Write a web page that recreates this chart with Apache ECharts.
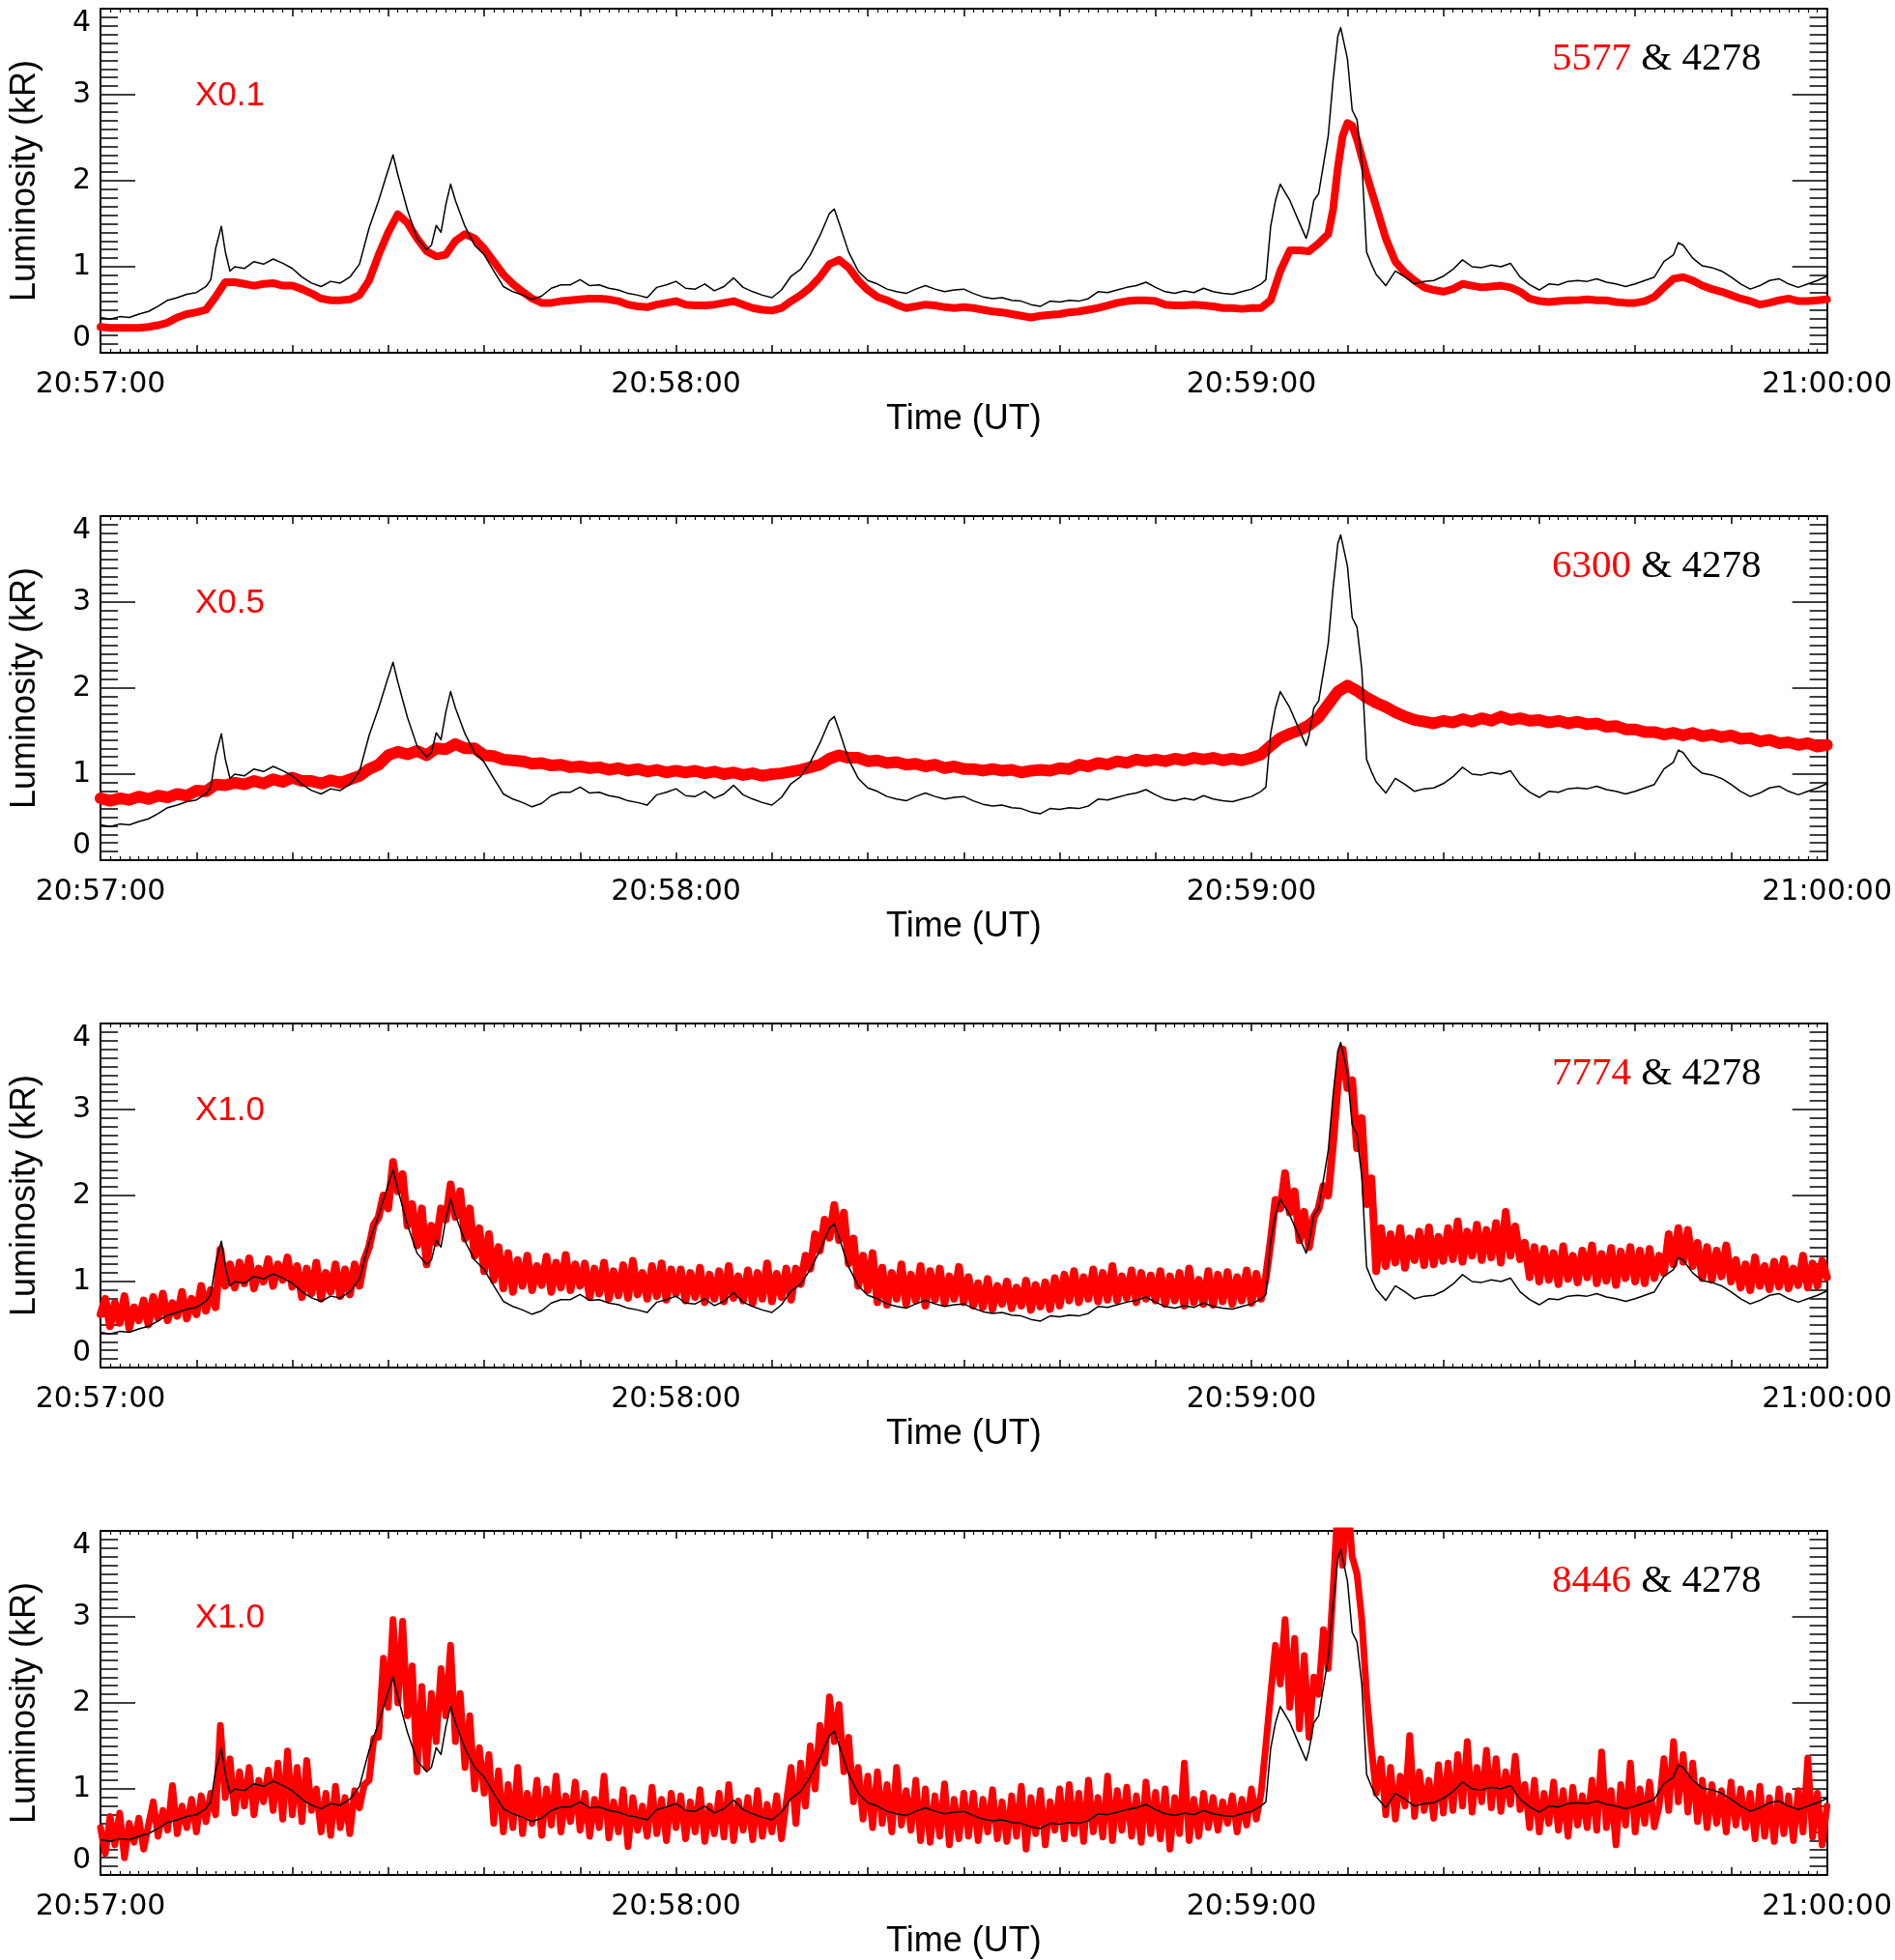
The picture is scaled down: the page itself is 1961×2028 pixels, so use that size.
<!DOCTYPE html>
<html>
<head>
<meta charset="utf-8">
<script src="https://cdn.jsdelivr.net/npm/echarts@6/dist/echarts.min.js"></script>
<style>html,body{margin:0;padding:0;background:#fff}#c{width:1961px;height:2028px}</style>
</head>
<body>
<div id="c"></div>
<script>
// ---- tick labels ----
const timeLabels = ['20:57:00', '20:58:00', '20:59:00', '21:00:00'];
const yTicks = [0, 1, 2, 3, 4];
const panelNames = ['5577', '6300', '7774', '8446'];
const scaleLabels = ['X0.1', 'X0.5', 'X1.0', 'X1.0'];
const refName = '4278';

// ---- 4278 (black), [seconds after 20:57:00, kR] ----
const k4278 = [
[0,0.41],[1,0.39],[2,0.42],[3,0.41],[4,0.45],[5,0.48],[6,0.54],[7,0.61],[8,0.64],[9,0.68],[10,0.70],[11,0.77],[11.5,0.85],[12,1.21],[12.6,1.47],[13,1.18],[13.5,0.95],[14,1.00],[15,0.98],[16,1.06],[17,1.03],[18,1.09],[19,1.04],[20,0.98],[21,0.88],[22,0.81],[23,0.77],[24,0.83],[25,0.81],[26,0.88],[27,1.03],[28,1.45],[29,1.77],[30,2.13],[30.5,2.30],[31,2.07],[32,1.66],[33,1.33],[34,1.20],[34.5,1.25],[35,1.48],[35.5,1.40],[36,1.72],[36.5,1.96],[37,1.77],[38,1.47],[39,1.25],[40,1.14],[41,0.95],[42,0.77],[43,0.71],[44,0.67],[45,0.62],[46,0.66],[47,0.75],[48,0.79],[49,0.79],[50,0.85],[51,0.78],[52,0.79],[53,0.75],[54,0.73],[55,0.69],[56,0.67],[57,0.64],[58,0.76],[59,0.79],[60,0.83],[61,0.75],[62,0.74],[63,0.80],[64,0.72],[65,0.77],[66,0.87],[67,0.76],[68,0.71],[69,0.67],[70,0.64],[71,0.73],[72,0.89],[73,0.97],[74,1.14],[75,1.36],[76,1.62],[76.5,1.67],[77,1.51],[78,1.17],[79,0.95],[80,0.84],[81,0.80],[82,0.74],[83,0.71],[84,0.69],[85,0.74],[86,0.78],[87,0.74],[88,0.71],[89,0.73],[90,0.74],[91,0.69],[92,0.65],[93,0.63],[94,0.64],[95,0.61],[96,0.60],[97,0.56],[98,0.54],[99,0.60],[100,0.59],[101,0.61],[102,0.60],[103,0.63],[104,0.71],[105,0.70],[106,0.73],[107,0.76],[108,0.78],[109,0.82],[110,0.76],[111,0.71],[112,0.69],[113,0.72],[114,0.70],[115,0.75],[116,0.71],[117,0.69],[118,0.68],[119,0.71],[120,0.74],[121,0.80],[121.5,0.85],[122,1.47],[122.5,1.77],[123,1.96],[124,1.77],[125,1.51],[125.7,1.33],[126,1.45],[126.5,1.77],[127,1.85],[128,2.52],[128.5,3.16],[129,3.68],[129.3,3.78],[130,3.42],[130.5,2.82],[131,2.71],[131.5,2.22],[132,1.17],[132.5,1.03],[133,0.91],[134,0.78],[135,0.95],[136,0.88],[137,0.80],[138,0.83],[139,0.84],[140,0.89],[141,0.97],[142,1.08],[143,1.00],[144,0.99],[145,1.02],[146,1.00],[147,1.04],[148,0.88],[149,0.79],[150,0.73],[151,0.80],[152,0.79],[153,0.83],[154,0.84],[155,0.83],[156,0.86],[157,0.82],[158,0.80],[159,0.77],[160,0.80],[161,0.84],[162,0.88],[163,1.06],[164,1.14],[164.5,1.28],[165,1.25],[166,1.10],[167,1.01],[168,0.99],[169,0.95],[170,0.88],[171,0.80],[172,0.74],[173,0.78],[174,0.84],[175,0.86],[176,0.80],[177,0.76],[178,0.80],[179,0.84],[180,0.89]
];

// ---- 5577 x0.1 (red), [seconds, kR] ----
const r5577 = [
[0,0.30],[1,0.29],[2,0.29],[3,0.29],[4,0.29],[5,0.30],[6,0.32],[7,0.35],[8,0.41],[9,0.45],[10,0.47],[11,0.50],[12,0.65],[13,0.82],[14,0.82],[15,0.80],[16,0.78],[17,0.80],[18,0.81],[19,0.78],[20,0.78],[21,0.74],[22,0.69],[23,0.63],[24,0.61],[25,0.61],[26,0.62],[27,0.67],[28,0.84],[29,1.14],[30,1.40],[31,1.61],[32,1.51],[33,1.33],[34,1.18],[35,1.12],[36,1.14],[37,1.30],[38,1.38],[39,1.33],[40,1.21],[41,1.06],[42,0.91],[43,0.80],[44,0.71],[45,0.63],[46,0.58],[47,0.58],[48,0.60],[49,0.61],[50,0.62],[51,0.63],[52,0.63],[53,0.62],[54,0.60],[55,0.56],[56,0.54],[57,0.53],[58,0.56],[59,0.58],[60,0.60],[61,0.56],[62,0.55],[63,0.55],[64,0.56],[65,0.58],[66,0.60],[67,0.56],[68,0.52],[69,0.50],[70,0.49],[71,0.52],[72,0.60],[73,0.67],[74,0.76],[75,0.88],[76,1.03],[77,1.08],[78,0.99],[79,0.84],[80,0.73],[81,0.65],[82,0.61],[83,0.56],[84,0.52],[85,0.54],[86,0.56],[87,0.55],[88,0.53],[89,0.52],[90,0.53],[91,0.52],[92,0.50],[93,0.48],[94,0.47],[95,0.45],[96,0.43],[97,0.41],[98,0.43],[99,0.44],[100,0.45],[101,0.47],[102,0.48],[103,0.50],[104,0.52],[105,0.55],[106,0.58],[107,0.60],[108,0.61],[109,0.61],[110,0.60],[111,0.56],[112,0.55],[113,0.55],[114,0.56],[115,0.55],[116,0.54],[117,0.52],[118,0.52],[119,0.51],[120,0.52],[121,0.52],[122,0.61],[123,0.95],[124,1.19],[125,1.19],[126,1.18],[127,1.27],[128,1.38],[128.5,1.66],[129,2.15],[129.5,2.52],[130,2.67],[130.5,2.64],[131,2.48],[132,2.07],[133,1.70],[134,1.33],[135,1.06],[136,0.93],[137,0.84],[138,0.76],[139,0.73],[140,0.71],[141,0.74],[142,0.80],[143,0.78],[144,0.76],[145,0.77],[146,0.78],[147,0.76],[148,0.71],[149,0.63],[150,0.60],[151,0.59],[152,0.60],[153,0.61],[154,0.61],[155,0.62],[156,0.61],[157,0.61],[158,0.59],[159,0.58],[160,0.58],[161,0.60],[162,0.65],[163,0.76],[164,0.86],[165,0.88],[166,0.84],[167,0.78],[168,0.74],[169,0.71],[170,0.67],[171,0.63],[172,0.60],[173,0.56],[174,0.58],[175,0.61],[176,0.63],[177,0.60],[178,0.60],[179,0.61],[180,0.62]
];

// ---- 6300 x0.5 (red), one value per second from 0 s ----
const r6300 = [
0.72,0.69,0.72,0.70,0.74,0.71,0.75,0.73,0.77,0.75,0.81,0.80,0.88,0.87,0.90,0.88,0.92,0.89,0.94,0.91,
0.96,0.92,0.92,0.89,0.93,0.90,0.94,0.98,1.06,1.11,1.22,1.26,1.23,1.27,1.22,1.30,1.29,1.35,1.30,1.30,
1.22,1.21,1.17,1.16,1.15,1.12,1.13,1.10,1.11,1.08,1.09,1.07,1.08,1.05,1.07,1.04,1.06,1.03,1.05,1.02,
1.04,1.02,1.04,1.01,1.03,1.00,1.02,0.99,1.01,0.98,1.00,1.01,1.03,1.05,1.08,1.11,1.18,1.22,1.19,1.19,
1.15,1.16,1.13,1.14,1.11,1.12,1.09,1.11,1.07,1.09,1.06,1.06,1.04,1.06,1.04,1.05,1.02,1.04,1.05,1.04,
1.07,1.06,1.11,1.09,1.13,1.11,1.15,1.13,1.17,1.15,1.17,1.15,1.18,1.16,1.19,1.17,1.19,1.16,1.18,1.16,
1.19,1.23,1.33,1.42,1.47,1.51,1.57,1.66,1.81,1.96,2.03,1.97,1.89,1.83,1.78,1.72,1.67,1.63,1.61,1.59,
1.62,1.60,1.64,1.61,1.65,1.62,1.67,1.63,1.65,1.62,1.63,1.60,1.62,1.59,1.61,1.58,1.59,1.55,1.56,1.52,
1.52,1.49,1.49,1.46,1.48,1.45,1.48,1.44,1.46,1.43,1.45,1.41,1.42,1.38,1.40,1.36,1.37,1.34,1.36,1.32,
1.34
];

// ---- 7774 x1.0 (red), one value per half second from 0 s ----
const r7774 = [
0.62,0.80,0.48,0.75,0.52,0.83,0.46,0.70,0.55,0.78,0.50,
0.82,0.58,0.86,0.55,0.75,0.60,0.88,0.57,0.80,0.62,
0.95,0.66,0.90,0.70,
1.37,0.95,1.20,
0.93,1.22,0.98,1.27,0.92,1.15,1.00,1.26,0.95,1.20,1.02,1.28,0.94,
1.18,0.82,1.15,0.86,1.22,0.80,1.10,0.88,1.20,0.83,1.14,0.85,1.20,
0.95,1.25,1.40,1.66,1.75,2.00,1.85,2.39,2.05,2.25,1.65,1.90,1.42,1.85,1.20,1.65,1.45,1.85,1.72,2.13,1.75,2.05,1.50,1.85,1.30,1.62,1.12,1.55,1.02,1.40,
0.92,1.33,0.88,1.25,0.95,1.30,0.90,1.18,0.96,1.29,0.88,1.22,0.93,1.31,0.90,1.20,0.95,
1.21,0.82,1.15,0.86,1.22,0.80,1.12,0.84,1.19,0.81,1.24,0.85,1.10,0.80,1.18,0.83,1.21,0.79,1.14,0.86,
1.14,0.78,1.10,0.82,1.16,0.76,1.08,0.80,1.12,0.77,1.18,0.81,1.06,0.78,1.13,0.75,1.10,0.80,1.21,0.77,1.09,0.82,1.15,0.79,
1.15,0.97,1.30,1.15,1.55,1.36,1.72,1.51,1.89,1.48,1.80,1.21,1.50,0.95,1.30,0.90,1.33,
0.76,1.16,0.73,1.10,0.80,1.20,0.74,1.08,0.78,1.18,0.72,1.12,0.79,1.15,0.75,1.06,0.80,1.17,0.76,
1.05,0.72,0.98,0.70,1.03,0.68,0.95,0.74,1.00,0.69,0.93,0.72,1.01,0.67,0.96,0.71,0.99,0.68,1.04,0.72,
1.08,0.78,1.12,0.76,1.05,0.80,1.14,0.77,1.10,0.79,1.18,0.78,1.06,0.81,1.13,0.76,1.10,0.80,1.07,0.78,
1.12,0.74,1.06,0.78,1.10,0.72,1.15,0.76,1.02,0.74,1.12,0.73,1.08,0.77,1.11,0.74,1.05,0.78,1.13,0.75,1.09,
0.80,1.05,1.47,1.95,1.85,2.26,1.80,2.05,1.48,1.81,1.40,1.75,1.85,2.11,2.00,2.60,3.30,3.70,3.25,3.34,2.55,2.90,1.90,2.20,1.12,1.62,
1.18,1.55,1.22,1.62,1.16,1.50,1.25,1.58,1.19,1.63,1.20,1.52,1.24,
1.62,1.26,1.70,1.23,1.58,1.30,1.66,1.25,1.60,1.28,1.68,1.22,1.81,1.30,1.64,1.26,
1.45,1.05,1.40,1.00,
1.38,1.02,1.33,0.97,1.41,1.03,1.30,0.99,1.36,1.05,1.42,0.98,1.32,1.01,1.39,0.96,1.35,1.04,1.40,1.00,
1.36,0.98,1.38,1.04,1.30,1.10,
1.55,1.20,1.62,1.23,1.60,1.18,
1.45,1.04,1.40,1.02,1.36,1.06,1.42,1.00,
1.25,0.93,1.20,0.90,1.28,0.95,1.18,0.91,1.23,0.94,1.26,0.92,1.15,0.96,1.30,0.93,1.21,0.95,1.24,1.05
];

// ---- 8446 x1.0 (red), one value per half second from 0 s ----
const r8446 = [
0.55,0.25,0.68,0.35,0.72,0.20,0.60,0.38,0.66,0.30,0.58,
0.85,0.45,0.75,0.52,1.04,0.48,0.80,0.55,0.88,0.50,
0.92,0.62,0.95,0.70,
1.74,0.90,1.35,
0.72,1.20,0.80,1.25,0.70,1.10,0.85,1.22,0.75,
1.30,0.65,1.44,0.70,1.25,0.62,1.33,0.75,
1.00,0.50,0.95,0.46,1.03,0.55,0.90,0.48,0.98,
0.78,1.05,1.10,1.59,1.60,2.52,1.95,2.97,2.00,2.95,1.85,2.43,1.20,2.19,1.25,2.11,1.55,2.40,1.85,2.67,1.55,2.11,1.25,1.85,1.00,1.48,0.95,1.40,0.60,1.21,
0.50,1.05,0.55,1.25,0.48,0.95,0.60,1.10,0.46,1.00,0.58,1.15,0.50,0.92,0.62,1.08,0.52,
0.95,0.45,0.88,0.55,1.15,0.43,0.85,0.50,0.99,0.33,0.90,0.52,0.80,0.45,1.02,0.48,0.88,0.40,0.95,0.55,
0.92,0.42,0.85,0.50,0.99,0.39,0.80,0.48,0.95,0.44,1.05,0.40,0.86,0.52,0.90,0.41,0.98,0.45,0.82,0.50,
0.92,0.42,0.85,
1.25,0.60,1.30,0.80,1.50,1.00,1.74,1.30,2.07,1.55,1.98,1.20,1.60,0.85,1.25,0.65,1.15,
0.55,1.20,0.60,1.05,0.50,1.25,0.58,0.98,0.52,1.10,
0.40,1.00,0.38,0.92,0.45,1.06,0.35,0.88,0.42,0.95,
0.45,0.95,0.40,0.88,0.50,0.99,0.42,0.85,0.39,0.92,
0.45,1.03,0.30,0.90,0.48,0.98,0.35,0.85,0.52,1.00,
0.42,1.05,0.48,0.95,0.39,1.10,0.50,0.90,0.44,1.15,0.40,0.98,0.52,1.02,0.45,0.92,0.38,1.08,0.48,0.96,
0.42,1.00,0.30,0.90,0.48,1.30,0.40,0.88,0.45,0.95,
0.55,0.90,0.52,0.85,0.60,0.92,0.50,0.88,0.58,1.00,0.65,
0.95,1.51,2.10,2.67,2.22,2.97,1.95,2.75,1.70,2.55,1.60,2.30,2.10,2.85,2.40,3.30,4.30,3.60,4.40,3.70,3.50,2.97,2.10,1.48,0.95,1.35,
0.70,1.25,0.65,1.15,0.80,1.62,0.68,1.20,0.75,1.10,0.66,1.28,0.72,
1.30,0.75,1.40,0.80,1.55,0.73,1.25,0.85,1.45,0.78,1.35,0.74,1.20,0.82,1.38,0.76,
1.05,0.55,1.10,0.50,0.95,0.60,1.08,0.52,0.98,0.45,1.02,0.58,0.92,0.55,
1.10,0.52,1.43,0.55,0.98,0.35,1.05,0.58,1.30,0.50,1.00,0.60,1.08,0.56,
0.80,1.35,0.75,1.55,0.85,1.40,0.73,1.30,
0.62,1.10,0.55,1.05,0.60,0.98,0.50,1.08,0.58,1.00,0.55,
0.95,0.42,1.03,0.45,0.90,0.39,1.00,0.48,0.92,0.40,0.98,0.50,1.36,0.44,0.95,0.35,0.80
];

// build [t, v] pairs from evenly sampled lists (sampling step in seconds)
function withTime(vals, step) { return vals.map((v, i) => [i * step, v]); }
const redSeries = [r5577, withTime(r6300, 1), withTime(r7774, 0.5), withTime(r8446, 0.5)];
const redWidths = [8, 12, 8, 7];

const PANEL_TOP = 9, PANEL_STEP = 525, PANEL_H = 356, PLOT_LEFT = 97, PLOT_W = 1799;

const grids = [], xAxes = [], yAxes = [], series = [], titles = [];
for (let i = 0; i < 4; i++) {
  grids.push({ left: PLOT_LEFT, top: PANEL_TOP + PANEL_STEP * i, width: PLOT_W, height: PANEL_H });
  const xBase = {
    gridIndex: i, type: 'value', min: 0, max: 180, interval: 10,
    axisLine: { show: true, onZero: false, lineStyle: { color: '#000', width: 2 } },
    axisTick: { show: true, inside: true, length: 8, lineStyle: { color: '#000', width: 1.5 } },
    minorTick: { show: true, splitNumber: 10, length: 4, lineStyle: { color: '#000', width: 1.2 } },
    splitLine: { show: false }, minorSplitLine: { show: false }
  };
  xAxes.push(Object.assign({}, xBase, {
    position: 'bottom',
    axisLabel: {
      show: true, margin: 18, color: '#000', fontSize: 30, fontFamily: 'DejaVu Sans',
      formatter: v => (v % 60 === 0 ? timeLabels[v / 60] : '')
    },
    name: 'Time (UT)', nameLocation: 'middle', nameGap: 51,
    nameTextStyle: { color: '#000', fontSize: 36, fontFamily: 'Liberation Sans' }
  }));
  xAxes.push(Object.assign({}, xBase, { position: 'top', axisLabel: { show: false } }));

  const yBase = {
    gridIndex: i, type: 'value', min: 0, max: 4, interval: 1,
    axisLine: { show: true, onZero: false, lineStyle: { color: '#000', width: 2 } },
    axisTick: { show: true, inside: true, length: 36, lineStyle: { color: '#000', width: 1.5 } },
    minorTick: { show: true, splitNumber: 10, length: 18, lineStyle: { color: '#000', width: 1.5 } },
    splitLine: { show: false }, minorSplitLine: { show: false }
  };
  yAxes.push(Object.assign({}, yBase, {
    position: 'left',
    axisLabel: {
      show: true, margin: 10, color: '#000', fontSize: 30, fontFamily: 'DejaVu Sans',
      verticalAlignMinLabel: 'bottom', verticalAlignMaxLabel: 'top',
      formatter: v => String(yTicks[v])
    },
    name: 'Luminosity (kR)', nameLocation: 'middle', nameGap: 60,
    nameTextStyle: { color: '#000', fontSize: 36, fontFamily: 'Liberation Sans' }
  }));
  yAxes.push(Object.assign({}, yBase, { position: 'right', axisLabel: { show: false } }));

  series.push({
    type: 'line', name: panelNames[i], xAxisIndex: 2 * i, yAxisIndex: 2 * i,
    data: redSeries[i], showSymbol: false, symbol: 'none', clip: true, z: 2,
    lineStyle: { color: '#ff0000', width: redWidths[i], cap: 'round', join: 'round' }
  });
  series.push({
    type: 'line', name: refName, xAxisIndex: 2 * i, yAxisIndex: 2 * i,
    data: k4278, showSymbol: false, symbol: 'none', clip: true, z: 3,
    lineStyle: { color: '#000', width: 1.5, join: 'round' }
  });

  titles.push({
    text: scaleLabels[i], left: 202, top: 82 + PANEL_STEP * i, padding: 0,
    textStyle: { color: '#ff0000', fontSize: 35, fontWeight: 'normal', fontFamily: 'Liberation Sans' }
  });
  titles.push({
    text: '{r|' + panelNames[i] + '}{k| & ' + refName + '}', left: 1606, top: 41 + PANEL_STEP * i, padding: 0,
    textStyle: {
      rich: {
        r: { color: '#ff0000', fontSize: 41, fontFamily: 'Liberation Serif', fontWeight: 'normal' },
        k: { color: '#000', fontSize: 41, fontFamily: 'Liberation Serif', fontWeight: 'normal' }
      }
    }
  });
}

const chart = echarts.init(document.getElementById('c'), null, { renderer: 'canvas' });
chart.setOption({
  animation: false, backgroundColor: '#fff',
  title: titles, grid: grids, xAxis: xAxes, yAxis: yAxes, series: series
});
</script>
</body>
</html>
